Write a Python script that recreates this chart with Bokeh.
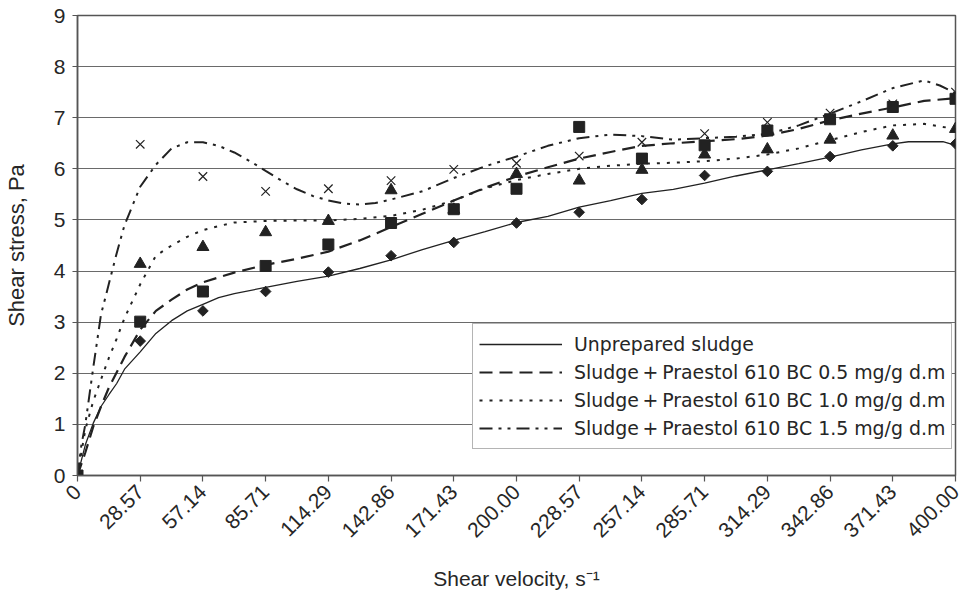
from bokeh.plotting import figure
from bokeh.models import Range1d, FixedTicker, Legend, LegendItem
from bokeh.embed import file_html
from bokeh.resources import INLINE
import math

# ---- data ----
tick_labels = ["0", "28.57", "57.14", "85.71", "114.29", "142.86", "171.43", "200.00",
               "228.57", "257.14", "285.71", "314.29", "342.86", "371.43", "400.00"]
x_points = [float(s) for s in tick_labels]

# measured points (markers)
unprep_pts = [0, 2.63, 3.22, 3.60, 3.98, 4.30, 4.56, 4.94, 5.15, 5.40, 5.87, 5.95, 6.24, 6.45, 6.49]
p05_pts = [0, 3.01, 3.60, 4.10, 4.52, 4.94, 5.21, 5.61, 6.82, 6.20, 6.46, 6.75, 6.97, 7.21, 7.37]
p10_pts = [0, 4.14, 4.47, 4.76, 4.98, 5.58, 5.20, 5.90, 5.77, 5.98, 6.28, 6.38, 6.57, 6.65, 6.78]
p15_pts = [0, 6.48, 5.85, 5.56, 5.61, 5.77, 5.99, 6.11, 6.25, 6.52, 6.69, 6.91, 7.09, 7.27, 7.50]

# smoothed curves
unprep_lx = [0, 3.57, 7.14, 10.71, 14.29, 17.86, 21.43, 28.57, 35.71, 42.86, 50, 57.14, 64.29,
             71.43, 85.71, 100, 114.29, 128.57, 142.86, 157.14, 171.43, 185.71, 200, 214.29,
             228.57, 242.86, 257.14, 271.43, 285.71, 300, 314.29, 328.57, 342.86, 357.14,
             371.43, 378.57, 394.29, 400]
unprep_ly = [0, 0.60, 1.02, 1.35, 1.58, 1.80, 2.08, 2.42, 2.78, 3.03, 3.22, 3.35, 3.48,
             3.56, 3.68, 3.80, 3.90, 4.05, 4.22, 4.42, 4.60, 4.77, 4.95, 5.07,
             5.25, 5.38, 5.52, 5.60, 5.72, 5.86, 5.98, 6.10, 6.23, 6.37,
             6.49, 6.53, 6.53, 6.46]

p05_lx = [0, 3.57, 7.14, 10.71, 14.29, 21.43, 28.57, 35.71, 42.86, 50, 57.14, 71.43, 85.71,
          100, 114.29, 128.57, 142.86, 157.14, 171.43, 185.71, 200, 214.29, 228.57, 242.86,
          257.14, 271.43, 285.71, 300, 314.29, 328.57, 342.86, 357.14, 371.43, 385.71, 400]
p05_ly = [0, 0.45, 0.95, 1.35, 1.72, 2.32, 2.85, 3.22, 3.44, 3.64, 3.78, 3.97, 4.12,
          4.24, 4.38, 4.60, 4.86, 5.12, 5.38, 5.63, 5.85, 6.03, 6.20, 6.33,
          6.45, 6.50, 6.54, 6.58, 6.65, 6.78, 6.95, 7.08, 7.20, 7.33, 7.38]

p10_lx = [0, 3.57, 7.14, 10.71, 14.29, 17.86, 21.43, 28.57, 35.71, 42.86, 50, 57.14, 64.29,
          71.43, 85.71, 100, 114.29, 128.57, 142.86, 157.14, 171.43, 185.71, 200, 214.29,
          228.57, 242.86, 257.14, 271.43, 285.71, 300, 314.29, 328.57, 342.86, 357.14,
          371.43, 385.71, 400]
p10_ly = [0, 0.90, 1.45, 1.88, 2.30, 2.68, 3.08, 3.74, 4.30, 4.50, 4.67, 4.80, 4.88,
          4.95, 4.98, 4.99, 4.99, 5.02, 5.08, 5.20, 5.38, 5.62, 5.78, 5.90,
          6.00, 6.06, 6.10, 6.12, 6.15, 6.20, 6.28, 6.40, 6.56, 6.72,
          6.85, 6.88, 6.78]

p15_lx = [0, 1.79, 3.57, 7.14, 10.71, 14.29, 17.86, 21.43, 28.57, 35.71, 42.86, 50, 57.14,
          64.29, 71.43, 78.57, 85.71, 92.86, 100, 107.14, 114.29, 121.43, 128.57, 135.71,
          142.86, 157.14, 171.43, 185.71, 200, 214.29, 228.57, 242.86, 257.14, 271.43,
          285.71, 300, 314.29, 328.57, 342.86, 357.14, 371.43, 385.71, 392.86, 400]
p15_ly = [0, 0.60, 1.00, 2.10, 3.15, 3.75, 4.35, 4.90, 5.65, 6.08, 6.40, 6.52, 6.52,
          6.45, 6.32, 6.15, 5.96, 5.77, 5.60, 5.47, 5.38, 5.32, 5.30, 5.33,
          5.40, 5.56, 5.82, 6.05, 6.24, 6.45, 6.60, 6.67, 6.64, 6.57,
          6.60, 6.63, 6.68, 6.85, 7.08, 7.32, 7.58, 7.73, 7.63, 7.48]

series_names = ["Unprepared sludge",
                "Sludge\u2009+\u2009Praestol 610 BC 0.5 mg/g d.m",
                "Sludge\u2009+\u2009Praestol 610 BC 1.0 mg/g d.m",
                "Sludge\u2009+\u2009Praestol 610 BC 1.5 mg/g d.m"]

INK = "#222222"
TXT = "#262626"
GRID = "#6a6a6a"

p = figure(width=962, height=592, x_range=Range1d(0, 400), y_range=Range1d(0, 9),
           output_backend="svg", toolbar_location=None,
           min_border_left=73, min_border_right=7, min_border_top=15, min_border_bottom=117)

p.background_fill_color = "white"
p.border_fill_color = "white"
p.outline_line_color = "#555555"
p.outline_line_width = 1.5

# grid
p.xgrid.grid_line_color = None
p.ygrid.grid_line_color = GRID
p.ygrid.grid_line_width = 1.2
p.ygrid.ticker = FixedTicker(ticks=list(range(10)))

# axes
xa = p.xaxis[0]
xa.ticker = FixedTicker(ticks=x_points)
xa.major_label_overrides = {v: s for v, s in zip(x_points, tick_labels)}
xa.major_label_orientation = math.pi / 4
xa.major_label_text_font = "Liberation Sans"
xa.major_label_text_font_size = "21px"
xa.major_label_text_color = TXT
xa.major_label_standoff = 7
xa.major_tick_out = 6
xa.major_tick_in = 0
xa.minor_tick_out = 0
xa.minor_tick_in = 0
xa.axis_line_color = "#555555"
xa.axis_line_width = 1.5
xa.major_tick_line_color = "#555555"
xa.major_tick_line_width = 1.2
xa.axis_label = "Shear velocity, s\u207b\u00b9"
xa.axis_label_text_font = "Liberation Sans"
xa.axis_label_text_font_size = "21px"
xa.axis_label_text_font_style = "normal"
xa.axis_label_text_color = TXT
xa.axis_label_standoff = 20

ya = p.yaxis[0]
ya.ticker = FixedTicker(ticks=list(range(10)))
ya.major_label_text_font = "Liberation Sans"
ya.major_label_text_font_size = "21px"
ya.major_label_text_color = TXT
ya.major_label_standoff = 7
ya.major_tick_out = 5
ya.major_tick_in = 0
ya.minor_tick_out = 0
ya.minor_tick_in = 0
ya.axis_line_color = "#555555"
ya.axis_line_width = 1.5
ya.major_tick_line_color = "#555555"
ya.major_tick_line_width = 1.2
ya.axis_label = "Shear stress, Pa"
ya.axis_label_text_font = "Liberation Sans"
ya.axis_label_text_font_size = "22px"
ya.axis_label_text_font_style = "normal"
ya.axis_label_text_color = TXT
ya.axis_label_standoff = 22

# curves
r0 = p.line(unprep_lx, unprep_ly, line_color=INK, line_width=1.3)
r1 = p.line(p05_lx, p05_ly, line_color=INK, line_width=2.2, line_dash="13 7")
r2 = p.line(p10_lx, p10_ly, line_color=INK, line_width=2.0, line_dash="3 7")
r3 = p.line(p15_lx, p15_ly, line_color=INK, line_width=2.0, line_dash="13 6 3 6 3 6")

# markers
p.scatter(x_points, unprep_pts, marker="square", angle=math.pi / 4, size=7.5,
          fill_color=INK, line_color=INK)
p.scatter(x_points, p10_pts, marker="triangle", size=12, fill_color=INK, line_color=INK)
p.scatter(x_points, p05_pts, marker="square", size=11, fill_color=INK, line_color=INK)
p.scatter(x_points, p15_pts, marker="x", size=12, line_color=INK, line_width=1.2)

legend = Legend(items=[LegendItem(label=series_names[0], renderers=[r0]),
                       LegendItem(label=series_names[1], renderers=[r1]),
                       LegendItem(label=series_names[2], renderers=[r2]),
                       LegendItem(label=series_names[3], renderers=[r3])],
                location=(395, 26))
legend.label_text_font = "DejaVu Sans"
legend.label_text_font_size = "18.9px"
legend.label_text_color = TXT
legend.glyph_width = 83
legend.glyph_height = 28
legend.label_height = 28
legend.label_standoff = 12
legend.padding = 6
legend.spacing = 0
legend.margin = 0
legend.border_line_color = "#6a6a6a"
legend.border_line_width = 1.5
legend.background_fill_color = "white"
legend.background_fill_alpha = 1.0
p.add_layout(legend)

open("out.html", "w").write(file_html(p, INLINE))
